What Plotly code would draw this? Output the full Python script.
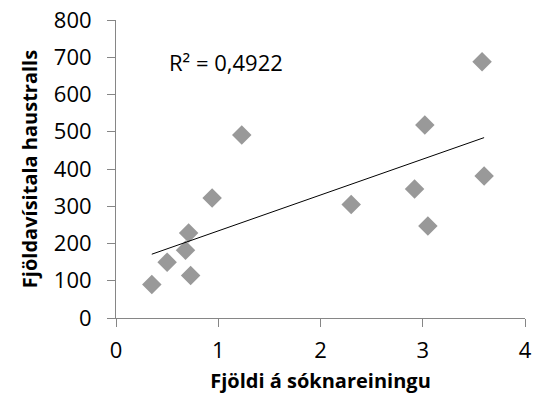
import numpy as np
import plotly.graph_objects as go

# Fjöldi á sóknareiningu (x) og fjöldavísitala haustralls (y)
fjoldi_soknareining = [0.35, 0.50, 0.68, 0.71, 0.73, 0.94, 1.23, 2.30, 2.92, 3.02, 3.05, 3.58, 3.60]
fjoldavisitala = [90, 150, 182, 228, 114, 322, 491, 305, 346, 518, 247, 688, 381]
r2_text = "R² = 0,4922"

x_ticks = [0, 1, 2, 3, 4]
y_ticks = [0, 100, 200, 300, 400, 500, 600, 700, 800]

x = np.array(fjoldi_soknareining)
y = np.array(fjoldavisitala)
slope, intercept = np.polyfit(x, y, 1)
x_line = np.array([x.min(), x.max()])
y_line = slope * x_line + intercept

FONT = "Open Sans, Lato, sans-serif"
AXIS_COLOR = "#868686"

fig = go.Figure()
fig.add_trace(go.Scatter(
    x=x, y=y, mode="markers",
    marker=dict(symbol="diamond", size=15, color="#999999", line=dict(width=0)),
    showlegend=False,
))
fig.add_trace(go.Scatter(
    x=x_line, y=y_line, mode="lines",
    line=dict(color="#000000", width=1),
    showlegend=False,
))

fig.add_annotation(
    x=0.5, y=687, xref="x", yref="y", text=r2_text, showarrow=False,
    xanchor="left", yanchor="middle",
    font=dict(family=FONT, size=22, color="#000000"),
)

axis_common = dict(
    showgrid=False, zeroline=False, showline=True, linecolor=AXIS_COLOR, linewidth=1,
    ticks="outside", ticklen=8, tickcolor=AXIS_COLOR, tickwidth=1,
    ticklabeloverflow="allow",
    tickfont=dict(family=FONT, size=22, color="#000000"),
)

fig.update_layout(
    width=537, height=408,
    margin=dict(l=116, r=12, t=20, b=90, autoexpand=False),
    paper_bgcolor="white", plot_bgcolor="white",
    xaxis=dict(
        range=[0, 4], tickvals=x_ticks, ticklabelstandoff=5, **axis_common,
        title=dict(text="<b>Fjöldi á sóknareiningu</b>", standoff=10,
                   font=dict(family=FONT, size=20, color="#000000")),
    ),
    yaxis=dict(
        range=[0, 800], tickvals=y_ticks, ticklabelstandoff=11, **axis_common,
        title=dict(text="<b>Fjöldavísitala haustralls</b>", standoff=10,
                   font=dict(family=FONT, size=20, color="#000000")),
    ),
)

fig.write_html("out.html")
